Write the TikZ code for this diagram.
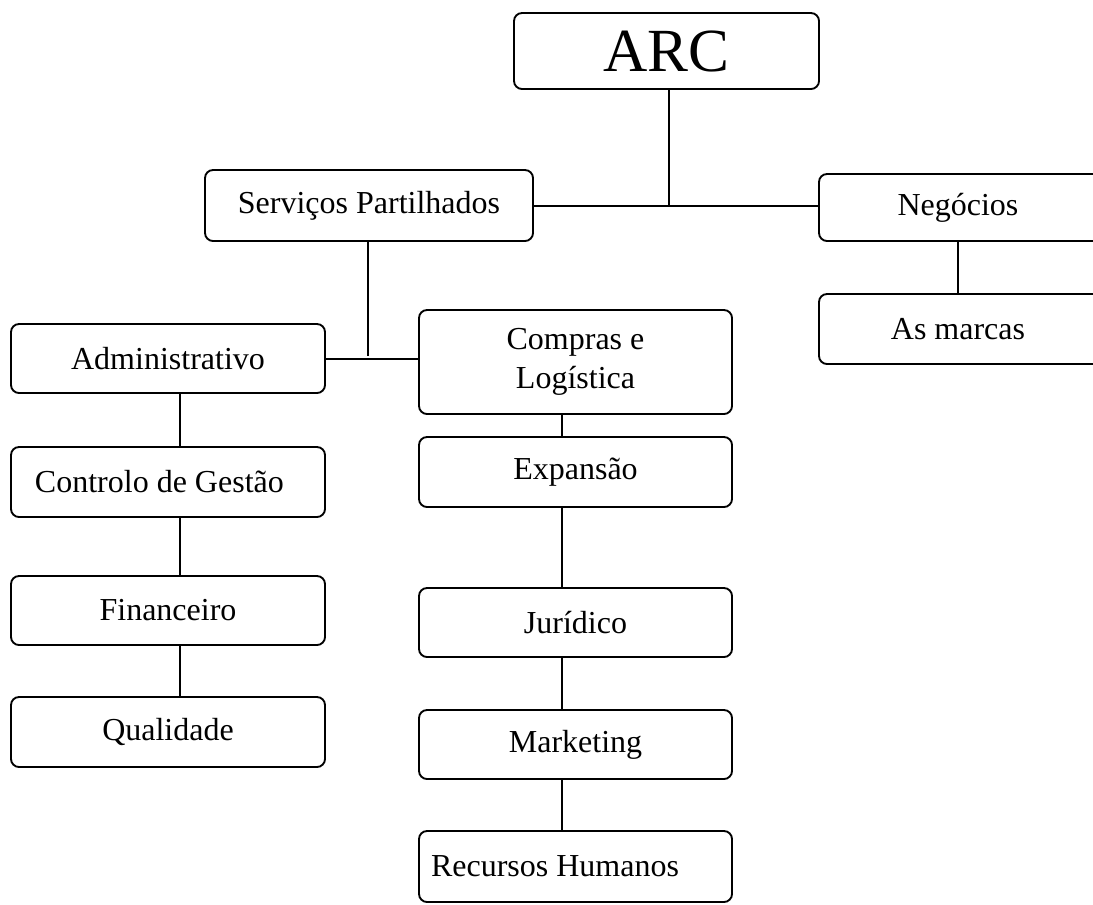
\documentclass[tikz,border=0pt]{standalone}
\usepackage{fontspec}
\setmainfont{Liberation Serif}
\begin{document}
\begin{tikzpicture}[x=0.75pt,y=-0.75pt,
  box/.style={draw, line width=1.4pt, rounded corners=6pt, inner sep=0pt, align=center,
    font=\fontsize{24}{29}\selectfont},
  conn/.style={line width=1.5pt}]
\clip (0,0) rectangle (1093,904);
\useasboundingbox (0,0) rectangle (1093,904);
\node[box, minimum width=228.75pt, minimum height=57pt, font=\fontsize{46}{50}\selectfont] (arc) at (666.5,51) {ARC};
\node[box, minimum width=246pt, minimum height=53.25pt] (serv) at (369,205.5) {Serviços Partilhados};
\node[box, minimum width=218.25pt, minimum height=50.25pt] (neg) at (964.5,207.5) {\mbox{Negócios\hspace{9.75pt}}};
\node[box, minimum width=218.25pt, minimum height=52.5pt] (marcas) at (964.5,329) {\mbox{As marcas\hspace{9.75pt}}};
\node[box, minimum width=235.5pt, minimum height=51.75pt] (adm) at (168,358.5) {Administrativo};
\node[box, minimum width=234.75pt, minimum height=78pt] (comp) at (575.5,362) {Compras e\\Logística};
\node[box, minimum height=52.5pt, inner xsep=18pt] (ctrl) at (168,482) {\makebox[199.5pt][l]{Controlo de Gestão}};
\node[box, minimum width=235.5pt, minimum height=51.75pt] (fin) at (168,610.5) {Financeiro};
\node[box, minimum width=235.5pt, minimum height=52.5pt] (qual) at (168,732) {Qualidade};
\node[box, minimum width=234.75pt, minimum height=52.5pt] (exp) at (575.5,472) {Expansão};
\node[box, minimum width=234.75pt, minimum height=51.75pt] (jur) at (575.5,622.5) {Jurídico};
\node[box, minimum width=234.75pt, minimum height=51.75pt] (mkt) at (575.5,744.5) {Marketing};
\node[box, minimum height=53.25pt, inner xsep=9pt] (rh) at (575.5,866.5) {\makebox[216.75pt][l]{Recursos Humanos}};
\coordinate (j1) at (669,206);
\coordinate (j2) at (368,356);
\coordinate (lc) at (180,0);
\coordinate (rc) at (562,0);
\coordinate (nc) at (958,0);
\draw[conn] (arc.south -| j1) -- (j1);
\draw[conn] (serv.east) -- (serv.east -| neg.west);
\draw[conn] (serv.south -| j2) -- (j2);
\draw[conn] (adm.east) -- (adm.east -| comp.west);
\draw[conn] (adm.south -| lc) -- (ctrl.north -| lc);
\draw[conn] (ctrl.south -| lc) -- (fin.north -| lc);
\draw[conn] (fin.south -| lc) -- (qual.north -| lc);
\draw[conn] (comp.south -| rc) -- (exp.north -| rc);
\draw[conn] (exp.south -| rc) -- (jur.north -| rc);
\draw[conn] (jur.south -| rc) -- (mkt.north -| rc);
\draw[conn] (mkt.south -| rc) -- (rh.north -| rc);
\draw[conn] (neg.south -| nc) -- (marcas.north -| nc);
\end{tikzpicture}
\end{document}
